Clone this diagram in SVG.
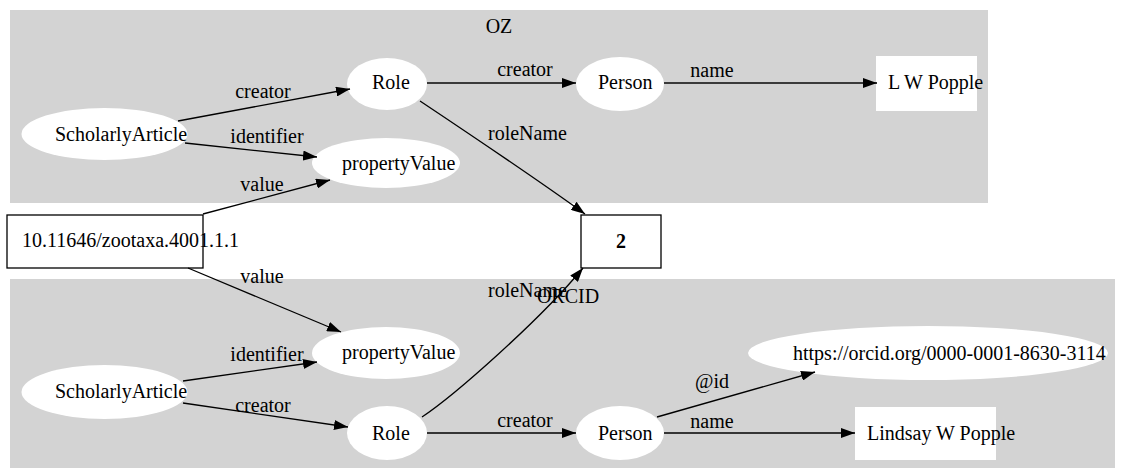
<svg xmlns="http://www.w3.org/2000/svg" width="1130" height="468" viewBox="0 0 1130 468">
  <style>
    text { font-family: "Liberation Serif", "Times New Roman", serif; font-size: 20px; fill: #000; }
    .cluster { fill: #d3d3d3; stroke: none; }
    .oval { fill: #fff; stroke: none; }
    .plain { fill: #fff; stroke: none; }
    .box { fill: #fff; stroke: #000; stroke-width: 1.3; }
    .edge { fill: none; stroke: #000; stroke-width: 1.3; marker-end: url(#arrow); }
    .edge.thick { stroke: #3a3a3a; stroke-width: 2; }
    .mid { text-anchor: middle; }
  </style>
  <defs>
    <marker id="arrow" markerUnits="userSpaceOnUse" markerWidth="14" markerHeight="10" refX="14" refY="5" orient="auto">
      <path d="M0,0 L14,5 L0,10 z" fill="#000"/>
    </marker>
  </defs>

  <rect width="1130" height="468" fill="#fff"/>

  <!-- clusters -->
  <g id="cluster-oz">
    <rect class="cluster" x="10" y="10" width="978" height="193"/>
    <text class="mid" x="499" y="33">OZ</text>
  </g>
  <g id="cluster-orcid">
    <rect class="cluster" x="10" y="279" width="1105" height="189"/>
    <text class="mid" x="568" y="303">ORCID</text>
  </g>

  <!-- OZ nodes -->
  <g id="oz-article">
    <ellipse class="oval" cx="104.5" cy="134" rx="83" ry="26"/>
    <text x="55" y="141">ScholarlyArticle</text>
  </g>
  <g id="oz-role">
    <ellipse class="oval" cx="387" cy="84" rx="40" ry="26"/>
    <text x="372" y="89">Role</text>
  </g>
  <g id="oz-propertyvalue">
    <ellipse class="oval" cx="386" cy="163" rx="74" ry="25"/>
    <text x="342" y="170">propertyValue</text>
  </g>
  <g id="oz-person">
    <ellipse class="oval" cx="620" cy="84" rx="44" ry="27"/>
    <text x="598" y="89">Person</text>
  </g>
  <g id="oz-name">
    <rect class="plain" x="876" y="56" width="101" height="55"/>
    <text x="888" y="89">L W Popple</text>
  </g>

  <!-- shared nodes -->
  <g id="doi">
    <rect class="box" x="7" y="215" width="196" height="53"/>
    <text x="22" y="247">10.11646/zootaxa.4001.1.1</text>
  </g>
  <g id="rolename-value">
    <rect class="box" x="581" y="215" width="80" height="53"/>
    <text class="mid" x="621" y="248" font-weight="bold">2</text>
  </g>

  <!-- ORCID nodes -->
  <g id="orcid-propertyvalue">
    <ellipse class="oval" cx="386" cy="353" rx="74" ry="26"/>
    <text x="342" y="359">propertyValue</text>
  </g>
  <g id="orcid-article">
    <ellipse class="oval" cx="104.5" cy="392" rx="83" ry="27"/>
    <text x="55" y="398">ScholarlyArticle</text>
  </g>
  <g id="orcid-role">
    <ellipse class="oval" cx="387" cy="433" rx="40" ry="27"/>
    <text x="372" y="440">Role</text>
  </g>
  <g id="orcid-person">
    <ellipse class="oval" cx="620" cy="433" rx="44" ry="27"/>
    <text x="598" y="440">Person</text>
  </g>
  <g id="orcid-id">
    <ellipse class="oval" cx="928" cy="353" rx="180" ry="27"/>
    <text x="793" y="360">https://orcid.org/0000-0001-8630-3114</text>
  </g>
  <g id="orcid-name">
    <rect class="plain" x="855" y="407" width="141" height="53"/>
    <text x="867" y="440">Lindsay W Popple</text>
  </g>

  <!-- connectors -->
  <g id="edges">
    <path class="edge" d="M178,121 L350,89"/>
    <text class="mid" x="263" y="98">creator</text>

    <path class="edge" d="M185,143 L317,157"/>
    <text class="mid" x="267" y="143">identifier</text>

    <path class="edge" d="M203,214 L330,180"/>
    <text class="mid" x="262" y="191">value</text>

    <path class="edge thick" d="M427,83 L576,83"/>
    <text class="mid" x="525" y="76">creator</text>

    <path class="edge thick" d="M664,83 L877,83"/>
    <text class="mid" x="712" y="77">name</text>

    <path class="edge" d="M420,101 C465,131 535,178 585,214"/>
    <text x="488" y="140">roleName</text>

    <path class="edge" d="M188,268 L341,332"/>
    <text class="mid" x="262" y="283">value</text>

    <path class="edge" d="M183,381 L317,362"/>
    <text class="mid" x="267" y="361">identifier</text>

    <path class="edge" d="M183,403 L348,427"/>
    <text class="mid" x="263" y="412">creator</text>

    <path class="edge" d="M422,417 C455,395 540,320 583,268"/>
    <text x="488" y="297">roleName</text>

    <path class="edge" d="M427,433 L576,433"/>
    <text class="mid" x="525" y="427">creator</text>

    <path class="edge" d="M657,417 L815,372"/>
    <text class="mid" x="712" y="388">@id</text>

    <path class="edge" d="M664,433 L855,433"/>
    <text class="mid" x="712" y="428">name</text>
  </g>
</svg>
